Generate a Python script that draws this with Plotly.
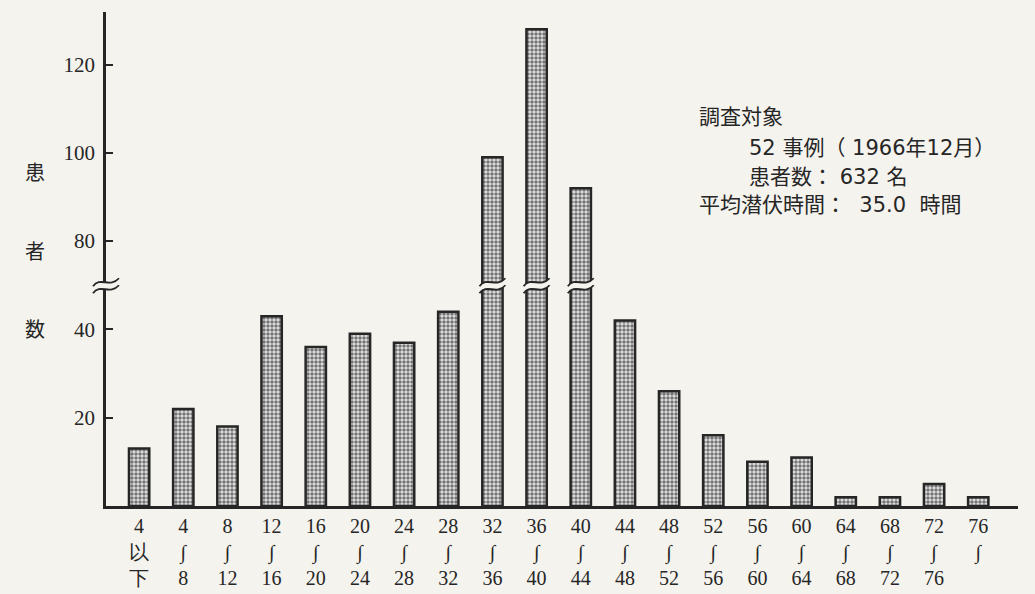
import plotly.graph_objects as go

# ---- data ----
bin_low = ["4", "4", "8", "12", "16", "20", "24", "28", "32", "36",
           "40", "44", "48", "52", "56", "60", "64", "68", "72", "76"]
bin_mid = ["以", "∫", "∫", "∫", "∫", "∫", "∫", "∫", "∫", "∫",
           "∫", "∫", "∫", "∫", "∫", "∫", "∫", "∫", "∫", "∫"]
bin_high = ["下", "8", "12", "16", "20", "24", "28", "32", "36", "40",
            "44", "48", "52", "56", "60", "64", "68", "72", "76", ""]
patients = [13, 22, 18, 43, 36, 39, 37, 44, 99, 128,
            92, 42, 26, 16, 10, 11, 2, 2, 5, 2]

y_tick_real = [20, 40, 80, 100, 120]
break_offset = 20      # amount of the axis removed by the break
break_threshold = 60   # bars above this are drawn broken
break_level = 50       # where the break marks sit on the drawn axis

info_lines = ["調査対象",
              "52 事例（ 1966年12月）",
              "患者数： 632 名",
              "平均潜伏時間：  35.0  時間"]
y_title_chars = ["患", "者", "数"]

# ---- derived drawing values ----
idx = list(range(len(patients)))
drawn = [v - break_offset if v > break_threshold else v for v in patients]
tick_text_x = [f"{a}<br>{b}<br>{c}" for a, b, c in zip(bin_low, bin_mid, bin_high)]
tick_vals_y = [v - break_offset if v > 40 else v for v in y_tick_real]

BG = "#f5f3ee"
INK = "#262626"
SERIF = "Liberation Serif, DejaVu Serif, serif"
SANS = "Noto Sans CJK JP, Noto Sans, sans-serif"
INFO = "DejaVu Sans, Noto Sans CJK JP, sans-serif"

W, H = 1035, 594
L, R, T, B = 106, 17, 12, 88
pw, ph = W - L - R, H - T - B


def px(xp):
    return (xp - L) / pw


def py(yp):
    return (H - B - yp) / ph


fig = go.Figure()
fig.add_trace(go.Bar(
    x=idx, y=drawn, customdata=patients,
    hovertemplate="%{customdata} 名<extra></extra>",
    width=0.46,
    marker=dict(
        color="#a8a8a8",
        line=dict(color=INK, width=2.5),
        pattern=dict(shape=".", size=4, solidity=0.6,
                     fgcolor="#747474", bgcolor="#e6e6e6", fillmode="replace"),
    ),
))

# break marks (pixel-sized shapes anchored on data positions)
band = "M -13 -1 C -6 9, 4 -3, 13 7 L 13 0 C 4 -10, -6 2, -13 -8 Z"
top_line = "M -13 -1 C -6 9, 4 -3, 13 7"
bot_line = "M -13 -8 C -6 2, 4 -10, 13 0"
shapes = []


def add_break(xanchor, xref):
    for path, fill, lw in ((band, BG, 0), (top_line, None, 1.8), (bot_line, None, 1.8)):
        s = dict(type="path", path=path, xref=xref, yref="y",
                 xsizemode="pixel", ysizemode="pixel",
                 xanchor=xanchor, yanchor=break_level, layer="above")
        if fill:
            s.update(fillcolor=fill, line=dict(width=0))
        else:
            s.update(line=dict(color=INK, width=lw))
        shapes.append(s)


for i, v in zip(idx, patients):
    if v > break_threshold:
        add_break(i, "x")
add_break(0, "paper")

annotations = []
info_pos = [(697, 117), (747, 148), (747, 177), (697, 205)]
for text, (xp, yp) in zip(info_lines, info_pos):
    annotations.append(dict(text=text, x=px(xp), y=py(yp), xref="paper", yref="paper",
                            xanchor="left", yanchor="middle", showarrow=False,
                            font=dict(family=INFO, size=21, color=INK)))
for ch, yp in zip(y_title_chars, [172, 250, 328]):
    annotations.append(dict(text=ch, x=px(35), y=py(yp), xref="paper", yref="paper",
                            xanchor="center", yanchor="middle", showarrow=False,
                            font=dict(family=SANS, size=20, color=INK)))

fig.update_layout(
    width=W, height=H,
    margin=dict(l=L, r=R, t=T, b=B),
    paper_bgcolor=BG, plot_bgcolor=BG,
    showlegend=False,
    shapes=shapes,
    annotations=annotations,
    xaxis=dict(range=[-0.75, 19.9], tickvals=idx, ticktext=tick_text_x,
               showgrid=False, zeroline=False, showline=True, automargin=False,
               linecolor=INK, linewidth=2.5, ticks="",
               tickfont=dict(family=SERIF, size=20, color=INK)),
    yaxis=dict(range=[0, 111.9], tickvals=tick_vals_y,
               ticktext=[str(v) for v in y_tick_real],
               showgrid=False, zeroline=False, showline=True, automargin=False,
               linecolor=INK, linewidth=2.5, ticks="inside", ticklen=7,
               tickwidth=2, tickcolor=INK, ticklabelstandoff=4,
               tickfont=dict(family=SERIF, size=21, color=INK)),
)

fig.write_html(
    "out.html",
    config={"displayModeBar": False},
    post_script="document.body.style.margin='0';document.body.style.background='#f5f3ee';",
)
